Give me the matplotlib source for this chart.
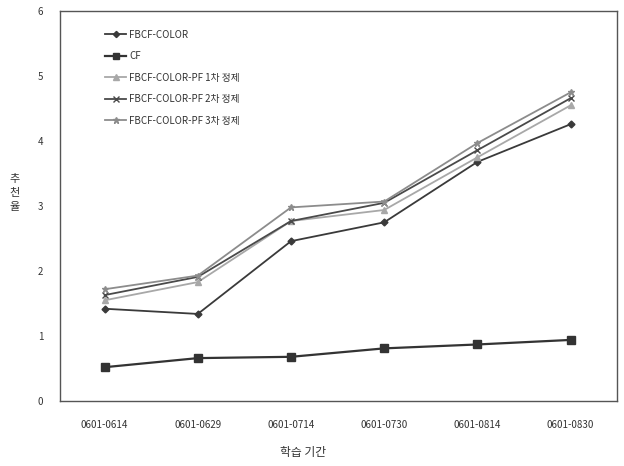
import matplotlib.pyplot as plt

plt.rcParams['font.family'] = ['Noto Sans CJK KR', 'DejaVu Sans']

periods = ['0601-0614', '0601-0629', '0601-0714', '0601-0730', '0601-0814', '0601-0830']
fbcf_color = [1.42, 1.34, 2.46, 2.75, 3.68, 4.26]
cf = [0.52, 0.66, 0.68, 0.81, 0.87, 0.94]
pf1 = [1.55, 1.83, 2.77, 2.94, 3.75, 4.55]
pf2 = [1.63, 1.91, 2.77, 3.05, 3.86, 4.66]
pf3 = [1.72, 1.93, 2.98, 3.07, 3.97, 4.75]

names = ['FBCF-COLOR', 'CF', 'FBCF-COLOR-PF 1차 정제', 'FBCF-COLOR-PF 2차 정제', 'FBCF-COLOR-PF 3차 정제']

fig = plt.figure(figsize=(6.24, 4.66), dpi=100)
ax = fig.add_axes([0.096, 0.1395, 0.893, 0.8365])

x = range(len(periods))
ax.plot(x, fbcf_color, color='#3a3a3a', lw=1.3, marker='D', ms=3.5, label=names[0])
ax.plot(x, cf, color='#333333', lw=1.6, marker='s', ms=5.5, label=names[1])
ax.plot(x, pf1, color='#a8a8a8', lw=1.3, marker='^', ms=5, label=names[2])
ax.plot(x, pf2, color='#4a4a4a', lw=1.3, marker='x', ms=5, mew=1, label=names[3])
ax.plot(x, pf3, color='#8c8c8c', lw=1.3, marker='*', ms=5, label=names[4])

ax.set_xlim(-0.48, 5.5)
ax.set_ylim(0, 6)
ax.set_xticks(list(x))
ax.set_xticklabels(periods, fontsize=7, color='#333333')
ax.set_yticks(range(7))
ax.tick_params(axis='both', length=0, labelsize=7, colors='#333333')
ax.tick_params(axis='x', pad=14)
ax.tick_params(axis='y', pad=12)
for s in ax.spines.values():
    s.set_color('#555555')
    s.set_linewidth(1)

# stacked y label, one character per line
fig.text(0.024, 0.585, '추\n천\n율', fontsize=8, ha='center', va='center',
         linespacing=1.5, color='#333333')
fig.text(0.486, 0.028, '학습 기간', fontsize=8.5, ha='center', va='center', color='#333333')

leg = ax.legend(loc='upper left', bbox_to_anchor=(0.065, 0.975), frameon=False,
                fontsize=7, handlelength=2.2, handletextpad=0.3, labelspacing=1.18,
                markerscale=0.9)
for t in leg.get_texts():
    t.set_color('#333333')

fig.savefig('out.png', dpi=100)
